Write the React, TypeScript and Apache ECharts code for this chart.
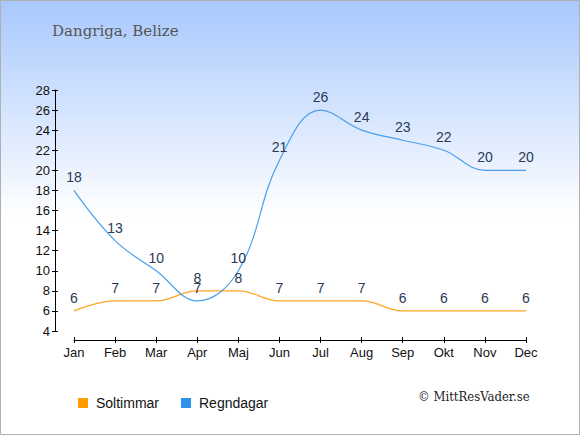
import React, { useEffect, useRef } from "react";
import * as echarts from "echarts";

const months = ["Jan", "Feb", "Mar", "Apr", "Maj", "Jun", "Jul", "Aug", "Sep", "Okt", "Nov", "Dec"];
const sunHours = [6, 7, 7, 8, 8, 7, 7, 7, 6, 6, 6, 6];
const rainDays = [18, 13, 10, 7, 10, 21, 26, 24, 23, 22, 20, 20];
const title = "Dangriga, Belize";
const credit = "© MittResVader.se";

export default function App() {
  const ref = useRef<HTMLDivElement>(null);
  useEffect(() => {
    document.body.style.margin = "0";
    const chart = echarts.init(ref.current!, null, { renderer: "svg" });
    const labelStyle = {
      show: true,
      position: "top",
      distance: 6,
      color: "#2a3957",
      fontSize: 14,
      fontFamily: "Liberation Sans, Arial, sans-serif",
    };
    const sans = "Liberation Sans, Arial, sans-serif";
    chart.setOption({
      animation: false,
      backgroundColor: {
        type: "linear",
        x: 0, y: 0, x2: 0, y2: 1,
        colorStops: [
          { offset: 0, color: "#a8c8fd" },
          { offset: 0.5, color: "#ffffff" },
          { offset: 1, color: "#ffffff" },
        ],
      },
      graphic: [
        {
          type: "rect",
          shape: { x: 0.5, y: 0.5, width: 579, height: 434 },
          style: { fill: "none", stroke: "#b0b0b0", lineWidth: 1 },
          silent: true,
        },
        {
          type: "text",
          left: 52,
          top: 23,
          style: {
            text: title,
            fill: "#555555",
            fontSize: 15,
            fontFamily: "DejaVu Serif, serif",
          },
        },
        {
          type: "text",
          left: 418,
          top: 390,
          style: {
            text: credit,
            fill: "#222222",
            fontSize: 13,
            fontFamily: "DejaVu Serif Condensed, DejaVu Serif, serif",
          },
        },
      ],
      legend: {
        left: 73,
        top: 391,
        icon: "rect",
        itemWidth: 10,
        itemHeight: 10,
        itemGap: 22,
        textStyle: {
          fontSize: 14,
          color: "#111",
          fontFamily: sans,
          padding: [0, 0, 0, 3],
        },
        data: [
          { name: "Soltimmar", itemStyle: { color: "#ff9c00", opacity: 1 } },
          { name: "Regndagar", itemStyle: { color: "#2f92ea", opacity: 1 } },
        ],
      },
      grid: { left: 74, right: 54, top: 90, bottom: 104, containLabel: false },
      xAxis: [
        {
          type: "category",
          data: months,
          boundaryGap: false,
          offset: 9,
          axisLine: { lineStyle: { color: "#000", width: 1 } },
          axisTick: { show: true, alignWithLabel: true, length: 3, lineStyle: { color: "#000" } },
          axisLabel: { color: "#111", fontSize: 13, fontFamily: sans, margin: 6 },
          splitLine: { show: false },
        },
        {
          type: "category",
          data: months,
          boundaryGap: false,
          position: "bottom",
          offset: 9,
          axisLine: { show: false },
          axisTick: { show: true, inside: true, alignWithLabel: true, length: 3, lineStyle: { color: "#000" } },
          axisLabel: { show: false },
          splitLine: { show: false },
        },
      ],
      yAxis: [
        {
          type: "value",
          min: 4,
          max: 28,
          interval: 2,
          offset: 19,
          axisLine: { show: true, lineStyle: { color: "#000", width: 1 } },
          axisTick: { show: true, length: 3, lineStyle: { color: "#000" } },
          axisLabel: { color: "#111", fontSize: 13, fontFamily: sans, margin: 5 },
          splitLine: { show: false },
        },
        {
          type: "value",
          min: 4,
          max: 28,
          interval: 2,
          position: "left",
          offset: 19,
          axisLine: { show: false },
          axisTick: { show: true, inside: true, length: 3, lineStyle: { color: "#000" } },
          axisLabel: { show: false },
          splitLine: { show: false },
        },
      ],
      series: [
        {
          name: "Soltimmar",
          type: "line",
          data: sunHours,
          smooth: 0.4,
          symbol: "circle",
          symbolSize: 0,
          showSymbol: true,
          itemStyle: { color: "#ff9c00" },
          lineStyle: { color: "#ffa424", width: 1.2 },
          label: labelStyle,
        },
        {
          name: "Regndagar",
          type: "line",
          data: rainDays,
          smooth: 0.4,
          symbol: "circle",
          symbolSize: 0,
          showSymbol: true,
          itemStyle: { color: "#2f92ea" },
          lineStyle: { color: "#4a9fec", width: 1.2 },
          label: labelStyle,
        },
      ],
    });
    return () => chart.dispose();
  }, []);
  return <div ref={ref} style={{ width: 580, height: 435 }} />;
}
